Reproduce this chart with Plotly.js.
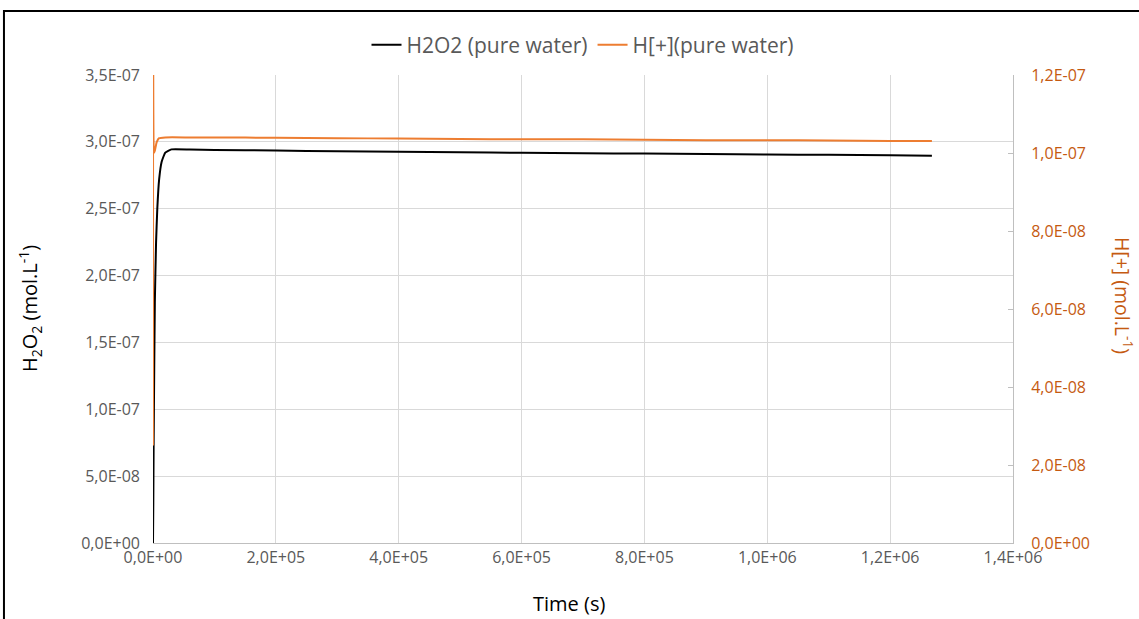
<!DOCTYPE html>
<html>
<head>
<meta charset="utf-8">
<script src="https://cdn.plot.ly/plotly-3.0.1.min.js"></script>
<style>
html,body{margin:0;padding:0;background:#fff;}
#chart{width:1139px;height:619px;}
</style>
</head>
<body>
<div id="chart"></div>
<script>
// Time (s)
const timeH2O2 = [0, 500, 1000, 2000, 3000, 5000, 7000, 10000, 14000, 20000, 30000, 60000, 100000, 200000, 300000, 400000, 500000, 600000, 700000, 800000, 900000, 1000000, 1100000, 1200000, 1268000];
// H2O2 (mol/L)
const h2o2 = [0, 3.0e-8, 7.0e-8, 1.3e-7, 1.8e-7, 2.25e-7, 2.5e-7, 2.72e-7, 2.85e-7, 2.92e-7, 2.944e-7, 2.943e-7, 2.94e-7, 2.935e-7, 2.93e-7, 2.926e-7, 2.922e-7, 2.918e-7, 2.915e-7, 2.912e-7, 2.909e-7, 2.906e-7, 2.903e-7, 2.899e-7, 2.896e-7];
// Time (s) for H+
const timeH = [0, 300, 1500, 3000, 6000, 10000, 20000, 60000, 100000, 200000, 300000, 400000, 500000, 600000, 700000, 800000, 900000, 1000000, 1100000, 1200000, 1268000];
// H+ (mol/L)
const hplus = [2.5e-8, 1.3e-7, 1.0e-7, 1.006e-7, 1.028e-7, 1.038e-7, 1.040e-7, 1.040e-7, 1.040e-7, 1.039e-7, 1.038e-7, 1.037e-7, 1.036e-7, 1.035e-7, 1.035e-7, 1.034e-7, 1.033e-7, 1.033e-7, 1.032e-7, 1.031e-7, 1.031e-7];

const xTicks = [0, 200000, 400000, 600000, 800000, 1000000, 1200000, 1400000];
const xTickText = ["0,0E+00", "2,0E+05", "4,0E+05", "6,0E+05", "8,0E+05", "1,0E+06", "1,2E+06", "1,4E+06"];
const yTicks = [0, 5e-8, 1e-7, 1.5e-7, 2e-7, 2.5e-7, 3e-7, 3.5e-7];
const yTickText = ["0,0E+00", "5,0E-08", "1,0E-07", "1,5E-07", "2,0E-07", "2,5E-07", "3,0E-07", "3,5E-07"];
const y2Ticks = [0, 2e-8, 4e-8, 6e-8, 8e-8, 1e-7, 1.2e-7];
const y2TickText = ["0,0E+00", "2,0E-08", "4,0E-08", "6,0E-08", "8,0E-08", "1,0E-07", "1,2E-07"];

const FONT = "'Open Sans', 'Noto Sans', sans-serif";
const GRAY = "#595959";
const ORANGE = "#ED7D31";
const DARKORANGE = "#C55A11";

const traces = [
  {x: timeH2O2, y: h2o2, type: 'scatter', mode: 'lines', name: 'H2O2 (pure water)',
   line: {color: '#000000', width: 2, shape: 'spline', smoothing: 0.4}, yaxis: 'y'},
  {x: timeH, y: hplus, type: 'scatter', mode: 'lines', name: 'H[+](pure water)',
   line: {color: ORANGE, width: 2, shape: 'spline', smoothing: 0.4}, yaxis: 'y2'}
];

const layout = {
  width: 1139, height: 619,
  margin: {l: 153, r: 126, t: 75, b: 76},
  paper_bgcolor: '#fff', plot_bgcolor: '#fff',
  font: {family: FONT, size: 13, color: GRAY},
  showlegend: true,
  legend: {orientation: 'h', x: 0.5, xanchor: 'center', y: 1.064, yanchor: 'middle',
           font: {family: FONT, size: 21, color: GRAY}, itemwidth: 30, tracegroupgap: 0},
  xaxis: {range: [0, 1400000], tickvals: xTicks, ticktext: xTickText,
          showgrid: true, gridcolor: '#D9D9D9', gridwidth: 1,
          showline: true, linecolor: '#BFBFBF', linewidth: 1, zeroline: false,
          ticks: '', tickfont: {family: FONT, size: 16, color: GRAY}, ticklabelstandoff: 0},
  yaxis: {range: [0, 3.5e-7], tickvals: yTicks, ticktext: yTickText,
          showgrid: true, gridcolor: '#D9D9D9', gridwidth: 1, zeroline: false,
          showline: false, ticks: '', tickfont: {family: FONT, size: 16, color: GRAY},
          ticklabelstandoff: 12},
  yaxis2: {range: [0, 1.2e-7], tickvals: y2Ticks, ticktext: y2TickText, overlaying: 'y', side: 'right',
           showgrid: false, zeroline: false, showline: true, linecolor: '#BFBFBF', linewidth: 1,
           ticks: 'inside', ticklen: 5, tickcolor: '#BFBFBF',
           tickfont: {family: FONT, size: 16, color: DARKORANGE}, ticklabelstandoff: 14},
  annotations: [
    {text: 'H<sub>2</sub>O<sub>2</sub> (mol.L<sup>-1</sup>)', xref: 'paper', yref: 'paper',
     x: -0.143, y: 0.5, textangle: -90, showarrow: false, xanchor: 'center', yanchor: 'middle',
     font: {family: FONT, size: 20, color: '#000'}},
    {text: 'H[+] (mol.L<sup>-1</sup>)', xref: 'paper', yref: 'paper',
     x: 1.128, y: 0.53, textangle: 90, showarrow: false, xanchor: 'center', yanchor: 'middle',
     font: {family: FONT, size: 19.5, color: DARKORANGE}},
    {text: 'Time (s)', xref: 'paper', yref: 'paper', x: 0.484, y: -0.13,
     showarrow: false, xanchor: 'center', yanchor: 'middle',
     font: {family: FONT, size: 20, color: '#000'}}
  ],
  shapes: [
    {type: 'rect', xref: 'paper', yref: 'paper', x0: -0.1733, x1: 1.2, y0: -0.3, y1: 1.1368,
     line: {color: '#000', width: 2}, fillcolor: 'rgba(0,0,0,0)', layer: 'above'}
  ]
};

Plotly.newPlot('chart', traces, layout, {displayModeBar: false, staticPlot: true});
</script>
</body>
</html>
